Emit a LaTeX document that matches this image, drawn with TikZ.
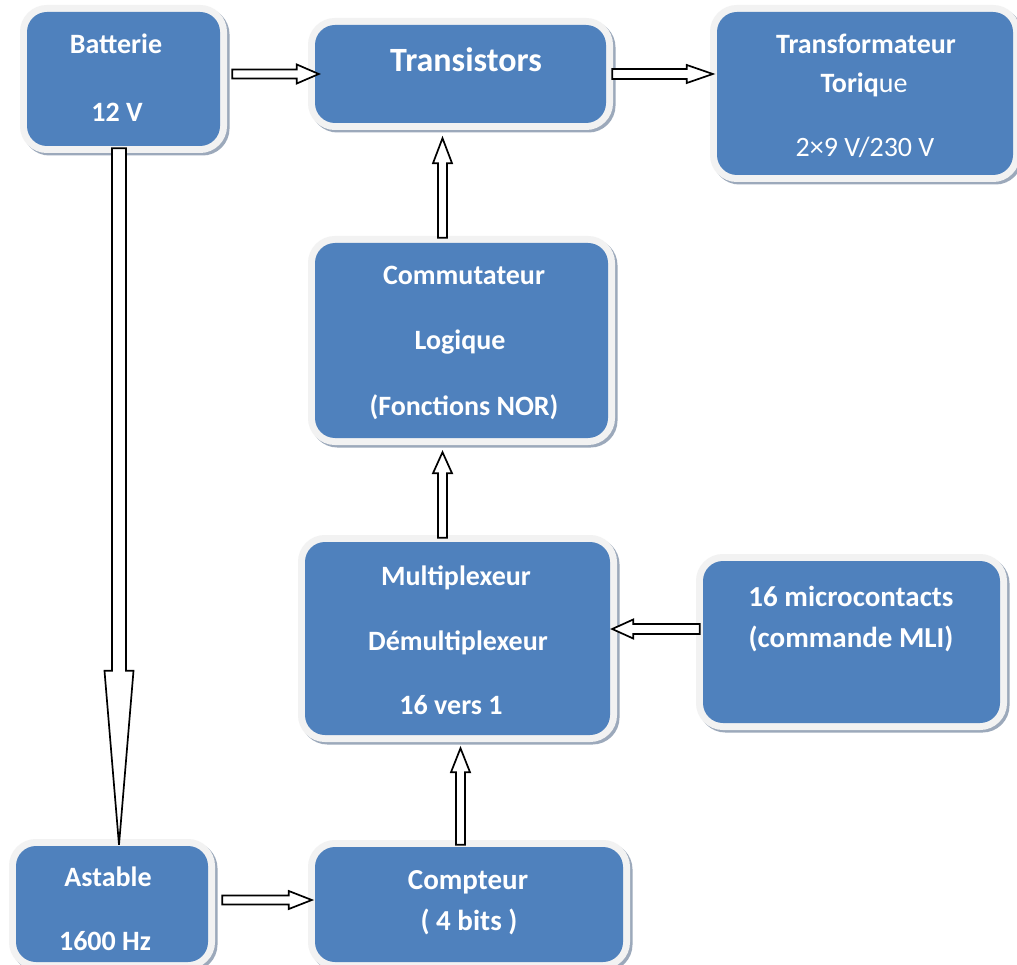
\documentclass[tikz,border=0pt]{standalone}
\usepackage{fontspec}
\setmainfont{Carlito}
\usetikzlibrary{calc}

\definecolor{boxblue}{HTML}{4F81BD}
\definecolor{halo}{HTML}{F2F2F2}
\definecolor{shade}{HTML}{9CA9BB}

% Block arrows (white, outlined) between two points: #1 from, #2 to,
% #3 half shaft width, #4 half head width, #5 head length
\newcommand\arrowRight[5]{%
  \draw[blockarrow] let \p1=(#1), \p2=(#2) in
    (\x1,\y2-#3) -- (\x2-#5,\y2-#3) -- (\x2-#5,\y2-#4) -- (\x2,\y2)
    -- (\x2-#5,\y2+#4) -- (\x2-#5,\y2+#3) -- (\x1,\y2+#3) -- cycle;}
\newcommand\arrowLeft[5]{%
  \draw[blockarrow] let \p1=(#1), \p2=(#2) in
    (\x1,\y2-#3) -- (\x2+#5,\y2-#3) -- (\x2+#5,\y2-#4) -- (\x2,\y2)
    -- (\x2+#5,\y2+#4) -- (\x2+#5,\y2+#3) -- (\x1,\y2+#3) -- cycle;}
\newcommand\arrowUp[5]{%
  \draw[blockarrow] let \p1=(#1), \p2=(#2) in
    (\x2-#3,\y1) -- (\x2-#3,\y2-#5) -- (\x2-#4,\y2-#5) -- (\x2,\y2)
    -- (\x2+#4,\y2-#5) -- (\x2+#3,\y2-#5) -- (\x2+#3,\y1) -- cycle;}
\newcommand\arrowDown[5]{%
  \draw[blockarrow] let \p1=(#1), \p2=(#2) in
    (\x2-#3,\y1) -- (\x2-#3,\y2+#5) -- (\x2-#4,\y2+#5) -- (\x2,\y2)
    -- (\x2+#4,\y2+#5) -- (\x2+#3,\y2+#5) -- (\x2+#3,\y1) -- cycle;}

\begin{document}
\begin{tikzpicture}[x=1pt,y=-1pt,
  box/.style={fill=boxblue, rounded corners=20pt, inner sep=0pt,
    preaction={draw=shade, line width=14pt,
      transform canvas={shift={(2.5pt,-2.5pt)}}},
    preaction={draw=halo, line width=14pt}},
  lbl/.style={text=white, anchor=base, inner sep=0pt,
    font=\bfseries\fontsize{28}{31}\selectfont},
  blockarrow/.style={draw=black, fill=white, line width=1.7pt, line join=miter}]

\useasboundingbox[fill=white] (0,0) rectangle (1017,965);

% blocks
\node[box, minimum width=193pt, minimum height=134pt] (batt)     at (123.5,79)   {};
\node[box, minimum width=291pt, minimum height=98pt]  (trans)    at (460.5,74)   {};
\node[box, minimum width=296pt, minimum height=163pt] (transfo)  at (865,93.5)   {};
\node[box, minimum width=293pt, minimum height=195pt] (commut)   at (461.5,340.5){};
\node[box, minimum width=305pt, minimum height=193pt] (multi)    at (457.5,638.5){};
\node[box, minimum width=297pt, minimum height=162pt] (micro)    at (851.5,642)  {};
\node[box, minimum width=192pt, minimum height=116pt] (astable)  at (112,904)    {};
\node[box, minimum width=308pt, minimum height=115pt] (compteur) at (469,904.5)  {};

% texts
\node[lbl] (batt-a) at (116,54)  {Batterie};
\node[lbl] (batt-b) at (117,122) {12 V};
\node[lbl, font=\bfseries\fontsize{34}{37}\selectfont] (trans-a) at (466,72) {Transistors};
\node[lbl] (transfo-a) at (866,54)  {Transformateur};
\node[lbl] (transfo-b) at (864,93)  {Toriq\mdseries ue};
\node[lbl, font=\mdseries\fontsize{28}{31}\selectfont] (transfo-c) at (865,157) {2×9 V/230 V};
\node[lbl] (commut-a) at (464,285) {Commutateur};
\node[lbl] (commut-b) at (460,350) {Logique};
\node[lbl] (commut-c) at (464,415) {(Fonctions NOR)};
\node[lbl] (multi-a) at (456,585) {Multiplexeur};
\node[lbl] (multi-b) at (458,650) {Démultiplexeur};
\node[lbl] (multi-c) at (451,714) {16 vers 1};
\node[lbl, font=\bfseries\fontsize{29}{32}\selectfont] (micro-a) at (851,606) {16 microcontacts};
\node[lbl, font=\bfseries\fontsize{29}{32}\selectfont] (micro-b) at (851,647) {(commande MLI)};
\node[lbl] (astable-a) at (108,886) {Astable};
\node[lbl] (astable-b) at (105,950) {1600 Hz};
\node[lbl, font=\bfseries\fontsize{29}{32}\selectfont] (compteur-a) at (468,889) {Compteur};
\node[lbl, font=\bfseries\fontsize{29}{32}\selectfont] (compteur-b) at (469,930) {( 4 bits )};

% arrow end points
\coordinate (a1s) at ($(batt.east)+(12,0)$);
\coordinate (a1e) at ($(trans.west)+(4,0)$);
\coordinate (a2s) at ($(trans.east)+(6,0)$);
\coordinate (a2e) at ($(transfo.west |- trans.east)+(-4,0)$);
\coordinate (a3s) at ($(commut.north)+(-19,-5)$);
\coordinate (a3e) at ($(trans.south)+(-18,15)$);
\coordinate (a4s) at ($(multi.north)+(0,-4)$);
\coordinate (a4e) at ($(commut.south)+(-19,14)$);
\coordinate (a5s) at ($(compteur.north)+(0,-2)$);
\coordinate (a5e) at ($(multi.south)+(3,13)$);
\coordinate (a6s) at ($(micro.west)+(-3,0)$);
\coordinate (a6e) at ($(multi.east)+(2,-9.5)$);
\coordinate (a7s) at ($(astable.east)+(14,0)$);
\coordinate (a7e) at ($(compteur.west)+(-3,-4.5)$);
\coordinate (a8s) at ($(batt.south)+(-4.5,2)$);
\coordinate (a8e) at ($(astable.north)+(7,-1)$);

% connectors
\arrowRight{a1s}{a1e}{4.5pt}{9.5pt}{22pt}
\arrowRight{a2s}{a2e}{5pt}{9pt}{26pt}
\arrowUp{a3s}{a3e}{4.5pt}{9.5pt}{25pt}
\arrowUp{a4s}{a4e}{4.5pt}{9.5pt}{21pt}
\arrowUp{a5s}{a5e}{4.5pt}{9.5pt}{24pt}
\arrowLeft{a6s}{a6e}{5pt}{9.5pt}{21pt}
\arrowRight{a7s}{a7e}{4.5pt}{9pt}{23pt}
\arrowDown{a8s}{a8e}{7pt}{14.5pt}{174pt}
\end{tikzpicture}
\end{document}
